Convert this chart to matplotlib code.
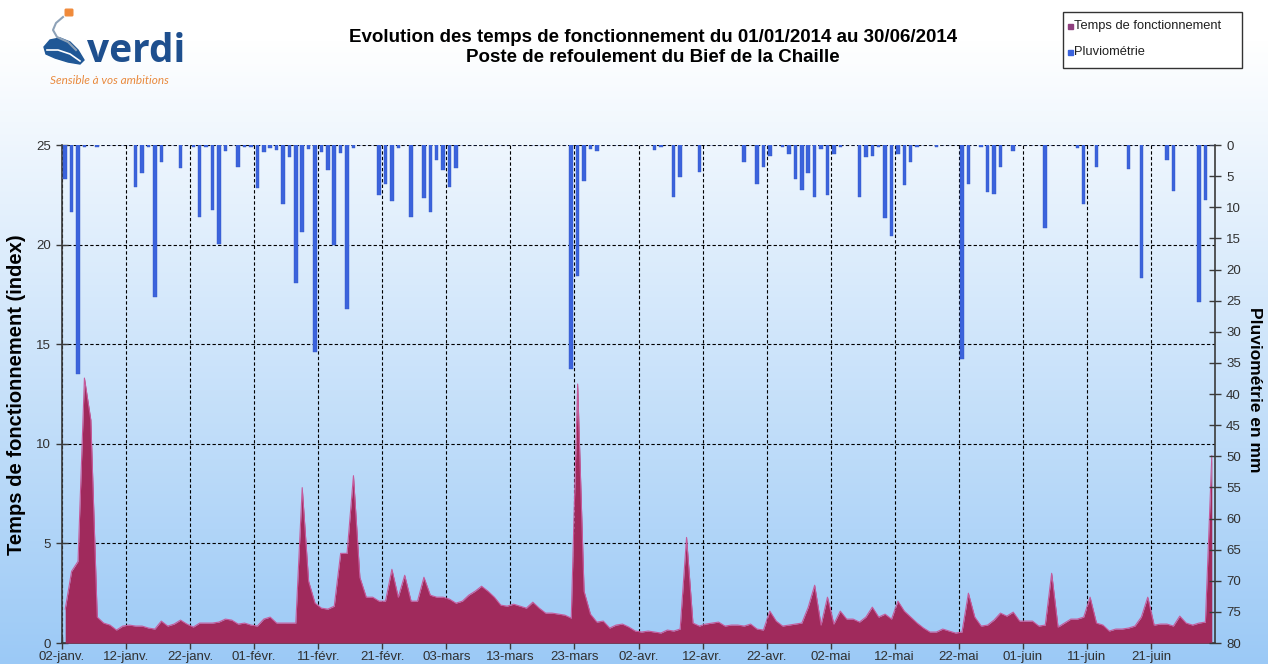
import numpy as np
import pandas as pd
import matplotlib
matplotlib.use("Agg")
import matplotlib.pyplot as plt
import matplotlib.dates as mdates
from matplotlib.patches import Rectangle, Polygon, FancyBboxPatch

plt.rcParams['font.family'] = ['Liberation Sans', 'DejaVu Sans']

# données journalières du 02/01/2014 au 30/06/2014
start_day = "2014-01-02"

temps_fonctionnement = [
    1.7, 3.6, 4.1, 13.3, 11.2, 1.3, 1.0, 0.9, 0.65, 0.85,
    0.9, 0.85, 0.85, 0.75, 0.7, 1.1, 0.85, 0.95, 1.15, 0.95,
    0.8, 1.0, 1.0, 1.0, 1.05, 1.2, 1.15, 0.95, 1.0, 0.9,
    0.85, 1.2, 1.3, 1.0, 1.0, 1.0, 1.0, 7.8, 3.1, 2.0,
    1.75, 1.7, 1.85, 4.5, 4.5, 8.4, 3.3, 2.3, 2.3, 2.1,
    2.1, 3.7, 2.3, 3.4, 2.1, 2.1, 3.3, 2.4, 2.3, 2.3,
    2.2, 2.0, 2.1, 2.4, 2.6, 2.85, 2.6, 2.3, 1.9, 1.85,
    1.95, 1.85, 1.75, 2.05, 1.75, 1.5, 1.5, 1.45, 1.4, 1.25,
    13.0, 2.6, 1.45, 1.05, 1.1, 0.75, 0.9, 0.95, 0.8, 0.6,
    0.55, 0.6, 0.55, 0.5, 0.65, 0.6, 0.7, 5.3, 1.0, 0.85,
    0.95, 1.0, 1.05, 0.85, 0.9, 0.9, 0.85, 0.95, 0.7, 0.65,
    1.6, 1.1, 0.85, 0.9, 0.95, 1.0, 1.8, 2.9, 0.9, 2.3,
    0.95, 1.6, 1.2, 1.2, 1.05, 1.3, 1.8, 1.3, 1.45, 1.2,
    2.1, 1.6, 1.3, 1.0, 0.75, 0.55, 0.55, 0.7, 0.6, 0.5,
    0.55, 2.5, 1.3, 0.85, 0.9, 1.15, 1.5, 1.35, 1.55, 1.1,
    1.1, 1.1, 0.85, 0.9, 3.5, 0.8, 1.0, 1.2, 1.2, 1.3,
    2.3, 1.0, 0.9, 0.6, 0.7, 0.7, 0.75, 0.85, 1.3, 2.3,
    0.9, 0.95, 0.95, 0.85, 1.35, 1.0, 0.9, 1.0, 1.05, 9.4,
]

pluviometrie = [
    5.5, 10.8, 36.8, 0.3, 0, 0.3, 0, 0, 0, 0,
    0, 6.7, 4.5, 0.4, 24.4, 2.8, 0, 0, 3.7, 0,
    0.4, 11.6, 0.3, 10.4, 15.9, 1.0, 0, 3.5, 0.4, 0.4,
    6.9, 1.2, 0.5, 0.8, 9.4, 2.0, 22.2, 14.0, 0.7, 33.3,
    1.2, 4.0, 16.1, 1.3, 26.3, 0.5, 0, 0, 0, 8.1,
    6.2, 9.0, 0.5, 0, 11.6, 0, 8.5, 10.7, 2.4, 4.0,
    6.7, 3.7, 0, 0, 0, 0, 0, 0, 0, 0,
    0, 0, 0, 0, 0, 0, 0, 0, 0, 36.0,
    21.0, 5.8, 0.7, 1.0, 0, 0, 0, 0, 0, 0,
    0, 0, 0.8, 0.3, 0, 8.3, 5.1, 0, 0, 4.4,
    0, 0, 0, 0, 0, 0, 2.8, 0, 6.2, 3.5,
    1.7, 0, 0.4, 1.5, 5.5, 7.2, 4.5, 8.3, 0.6, 8.1,
    1.5, 0.3, 0, 0, 8.3, 2.0, 1.7, 0.3, 11.7, 14.6,
    1.5, 6.5, 2.8, 0.4, 0, 0, 0.4, 0, 0, 0,
    34.4, 6.2, 0, 0.3, 7.6, 7.9, 3.5, 0, 1.0, 0,
    0, 0, 0, 13.3, 0, 0, 0, 0, 0.5, 9.5,
    0, 3.5, 0, 0, 0, 0, 3.9, 0, 21.3, 0,
    0, 0, 2.4, 7.4, 0, 0, 0, 25.3, 8.8, 0,
]

tick_labels = ["02-janv.", "12-janv.", "22-janv.", "01-févr.", "11-févr.", "21-févr.",
               "03-mars", "13-mars", "23-mars", "02-avr.", "12-avr.", "22-avr.",
               "02-mai", "12-mai", "22-mai", "01-juin", "11-juin", "21-juin"]

titre = ["Evolution des temps de fonctionnement du 01/01/2014 au 30/06/2014",
         "Poste de refoulement du Bief de la Chaille"]

W, H = 1268, 664


def fx(px):
    return px / W


def fy(py):
    return 1 - py / H


fig = plt.figure(figsize=(W / 100, H / 100), dpi=100)

# fond degrade blanc -> bleu clair
bg = fig.add_axes([0, 0, 1, 1], zorder=-10)
rows = np.linspace(0, H, 400)
t = np.clip((rows - 40) / (H - 40), 0, 1)[:, None]
haut = np.array([1.0, 1.0, 1.0])
bas = np.array([0.61, 0.79, 0.965])
grad = haut * (1 - t) + bas * t
bg.imshow(grad[:, None, :], aspect='auto', extent=[0, 1, 0, 1])
bg.axis('off')

# zone de trace
ax = fig.add_axes([fx(62), fy(643), fx(1215) - fx(62), (643 - 145) / H])
ax.set_facecolor('none')

dates = pd.date_range(start_day, periods=len(temps_fonctionnement), freq='D')
x = mdates.date2num(dates) + 0.5
x0 = mdates.date2num(pd.Timestamp(start_day))

ax.fill_between(x, temps_fonctionnement, 0, color='#a02a5c', lw=0, zorder=3)
ax.plot(x, temps_fonctionnement, color='#c65a9c', lw=0.8, zorder=4)

ax.set_xlim(x0, x0 + 180)
ax.set_ylim(0, 25)
ax.set_yticks([0, 5, 10, 15, 20, 25])
tick_dates = pd.date_range(start_day, periods=len(tick_labels), freq='10D')
ax.set_xticks(mdates.date2num(tick_dates))
ax.set_xticklabels(tick_labels)

ax.set_axisbelow(True)
ax.grid(True, color='black', linestyle=(0, (3, 2)), linewidth=0.8)

ax2 = ax.twinx()
ax2.set_facecolor('none')
ax2.bar(x, pluviometrie, width=0.55, color='#3b63dc', edgecolor='#3457c8', lw=0.3, zorder=3)
ax2.set_ylim(80, 0)
ax2.set_yticks(np.arange(0, 81, 5))

for a in (ax, ax2):
    a.spines['top'].set_visible(False)
    for s in ('left', 'right', 'bottom'):
        a.spines[s].set_color('#3a3a3a')
        a.spines[s].set_linewidth(1.2)
    a.tick_params(direction='inout', length=8, width=1, color='#3a3a3a',
                  labelsize=9.5, labelcolor='#303030', pad=4)
ax2.spines['left'].set_visible(False)
ax2.spines['bottom'].set_visible(False)
ax.spines['right'].set_visible(False)
ax.tick_params(axis='x', pad=1.5)

# titres des axes
fig.text(fx(17), fy(395), "Temps de fonctionnement (index)", rotation=90,
         ha='center', va='center', fontsize=14.5, fontweight='bold')
fig.text(fx(1255), fy(390), "Pluviométrie en mm", rotation=-90,
         ha='center', va='center', fontsize=12.5, fontweight='bold')

# titre
fig.text(fx(653), fy(38), titre[0], ha='center', va='center', fontsize=13.5, fontweight='bold')
fig.text(fx(653), fy(58), titre[1], ha='center', va='center', fontsize=13.5, fontweight='bold')

# legende
fig.patches.append(Rectangle((fx(1063), fy(68)), fx(1242) - fx(1063), 56 / H,
                             transform=fig.transFigure, facecolor='white',
                             edgecolor='#333333', lw=1))
legende = [("Temps de fonctionnement", '#8e3f7e', 26), ("Pluviométrie", '#3b63dc', 52)]
for texte, couleur, py in legende:
    fig.patches.append(Rectangle((fx(1068), fy(py + 3)), 5 / W, 5 / H,
                                 transform=fig.transFigure, color=couleur))
    fig.text(fx(1074), fy(py), texte, ha='left', va='center', fontsize=9.3, color='#202020')

# logo
lax = fig.add_axes([0, fy(100), fx(320), 100 / H])
lax.set_xlim(0, 320)
lax.set_ylim(100, 0)
lax.axis('off')
lax.add_patch(FancyBboxPatch((66, 10), 6, 5, boxstyle="round,pad=0.8", color='#f08a3a'))
lax.plot([63, 56, 53, 57, 68, 76], [17, 23, 30, 37, 42, 50], color='#8ea2b8', lw=1.5)
lax.add_patch(Polygon([[44, 47], [50, 40], [60, 38], [70, 42], [78, 50], [84, 60],
                       [80, 64], [68, 62], [55, 58], [46, 54]], closed=True, color='#1f5796'))
lax.plot([47, 58, 70, 80], [50, 50, 54, 61], color='white', lw=1.2)
lax.text(87, 62, "verdi", fontsize=28, color='#1e4f8e', family='Open Sans',
         fontweight='bold', ha='left', va='baseline')
lax.text(50, 80, "Sensible à vos ambitions", fontsize=8.5, color='#e98a3d',
         family='Lato', style='italic', ha='left', va='center')

fig.savefig("out.png", dpi=100)
